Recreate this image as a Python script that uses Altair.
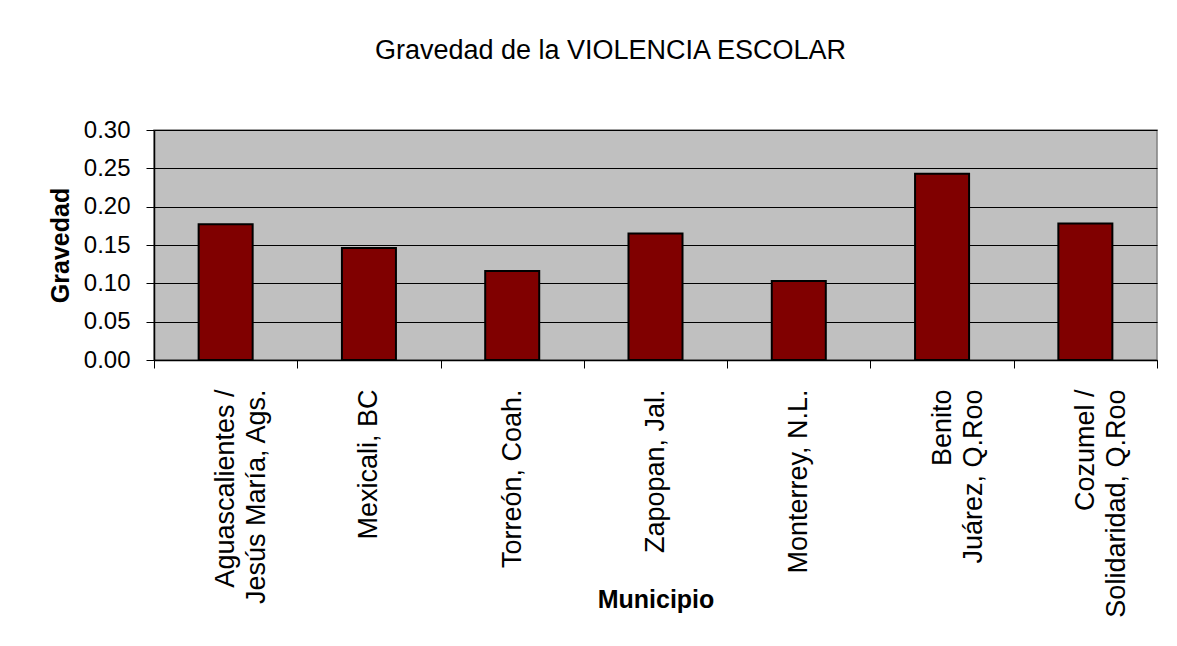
import altair as alt
import pandas as pd

municipios = [
    "Aguascalientes /\nJesús María, Ags.",
    "Mexicali, BC",
    "Torreón, Coah.",
    "Zapopan, Jal.",
    "Monterrey, N.L.",
    "Benito\nJuárez, Q.Roo",
    "Cozumel /\nSolidaridad, Q.Roo",
]
gravedad = [0.177, 0.146, 0.116, 0.165, 0.103, 0.243, 0.178]
y_ticks = [0.00, 0.05, 0.10, 0.15, 0.20, 0.25, 0.30]

df = pd.DataFrame({"Municipio": municipios, "Gravedad": gravedad})

FONT = "Liberation Sans"

chart = (
    alt.Chart(df)
    .mark_bar(
        color="#800000",
        stroke="#000000",
        strokeWidth=2,
        width=alt.RelativeBandSize(0.377),
    )
    .encode(
        x=alt.X(
            "Municipio:N",
            sort=municipios,
            scale=alt.Scale(paddingInner=0, paddingOuter=0),
            axis=alt.Axis(
                title="Municipio",
                titleFont=FONT,
                titleFontSize=25,
                titleFontWeight="bold",
                titleColor="#000000",
                titleBaseline="bottom",
                titleY=252,
                labelAngle=-90,
                labelAlign="right",
                labelBaseline="middle",
                labelFont=FONT,
                labelFontSize=27,
                labelLineHeight=31,
                labelColor="#000000",
                labelPadding=21,
                labelExpr="split(datum.label, '\\n')",
                labelLimit=0,
                tickBand="extent",
                tickSize=8,
                tickColor="#000000",
                tickWidth=1,
                domainColor="#000000",
                domainWidth=1.5,
                grid=False,
            ),
        ),
        y=alt.Y(
            "Gravedad:Q",
            scale=alt.Scale(domain=[0, 0.3], nice=False),
            axis=alt.Axis(
                title="Gravedad",
                titleFont=FONT,
                titleFontSize=25,
                titleFontWeight="bold",
                titleColor="#000000",
                titlePadding=10,
                values=y_ticks,
                format=".2f",
                labelFont=FONT,
                labelFontSize=24,
                labelColor="#000000",
                labelPadding=16,
                tickSize=8,
                tickColor="#000000",
                tickWidth=1,
                domainColor="#000000",
                domainWidth=1.5,
                grid=True,
                gridColor="#000000",
                gridWidth=1.2,
            ),
        ),
    )
    .properties(
        width=1003,
        height=230,
        padding={"left": 40, "top": 29, "right": 5, "bottom": 5},
        title=alt.TitleParams(
            "Gravedad de la VIOLENCIA  ESCOLAR",
            font=FONT,
            fontSize=27,
            fontWeight="normal",
            color="#000000",
            anchor="middle",
            dx=-45,
            offset=53,
        ),
    )
    .configure(
        background="#FFFFFF",
        view=alt.ViewConfig(fill="#C0C0C0", stroke="#808080", strokeWidth=1.5),
    )
)

chart.save("out.html", embed_options={"renderer": "svg", "actions": False})
